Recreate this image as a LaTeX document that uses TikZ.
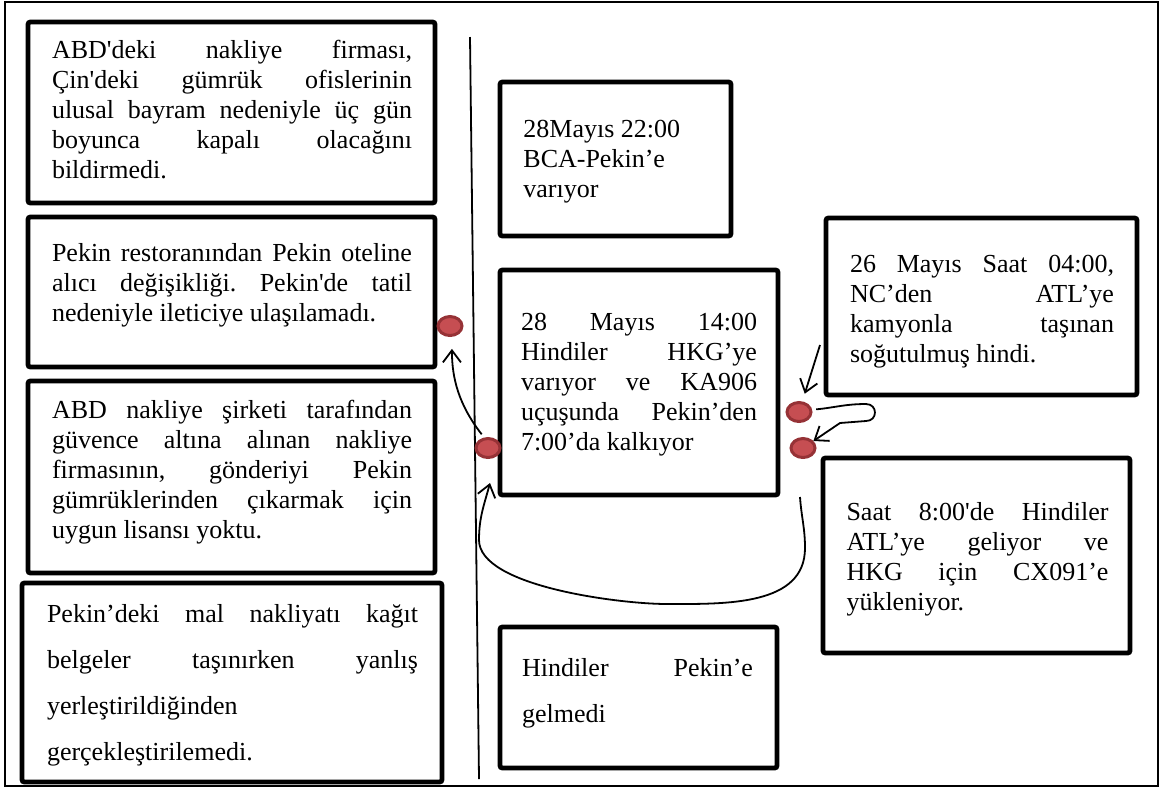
\documentclass[tikz,border=0pt]{standalone}
\usepackage{fontspec}
\setmainfont{Liberation Serif}[Ligatures=TeXOff]
\usetikzlibrary{arrows.meta,shapes.geometric}
\definecolor{dotfill}{RGB}{198,78,82}
\definecolor{dotrim}{RGB}{150,50,54}
% one fully justified line of the given width
\newcommand{\jl}[2]{\makebox[#1][s]{#2}}
\frenchspacing
\begin{document}
\begin{tikzpicture}[x=0.5pt,y=0.5pt,
  box/.style={draw=black, line width=2.4pt, rounded corners=1.2pt, inner sep=0pt},
  txt/.style={inner sep=0pt, align=left, font=\fontsize{13pt}{15pt}\selectfont},
  txtwide/.style={txt, font=\fontsize{13pt}{23pt}\selectfont},
  dot/.style={ellipse, draw=dotrim, fill=dotfill, line width=1.5pt,
    minimum width=12pt, minimum height=9.5pt, inner sep=0pt},
  arr/.style={line width=0.9pt, -{Straight Barb[length=6pt,width=9pt]}}]

\useasboundingbox (0,0) rectangle (1166,-789);
% outer frame and the dividing line
\draw[line width=1pt] (5,-2) rectangle (1158,-786);
\draw[line width=0.9pt] (470,-37) -- (479,-779);

% left column: causes
\node[box, minimum width=203.5pt, minimum height=90.5pt] (bA) at (231.5,-112.5) {};
\node[txt] (tA) at (232,-110) {\jl{180pt}{ABD'deki nakliye firması,}\\
\jl{180pt}{Çin'deki gümrük ofislerinin}\\
\jl{180pt}{ulusal bayram nedeniyle üç gün}\\
\jl{180pt}{boyunca kapalı olacağını}\\
bildirmedi.};

\node[box, minimum width=203.5pt, minimum height=75pt] (bB) at (231.5,-292) {};
\node[txt] (tB) at (232,-285) {\jl{180pt}{Pekin restoranından Pekin oteline}\\
\jl{180pt}{alıcı değişikliği. Pekin'de tatil}\\
nedeniyle ileticiye ulaşılamadı.};

\node[box, minimum width=203.5pt, minimum height=96pt] (bC) at (231.5,-477) {};
\node[txt] (tC) at (232,-472) {\jl{180pt}{ABD nakliye şirketi tarafından}\\
\jl{180pt}{güvence altına alınan nakliye}\\
\jl{180pt}{firmasının, gönderiyi Pekin}\\
\jl{180pt}{gümrüklerinden çıkarmak için}\\
uygun lisansı yoktu.};

\node[box, minimum width=210pt, minimum height=99.5pt] (bD) at (232,-682.5) {};
\node[txtwide] (tD) at (232.5,-685) {\jl{185.5pt}{Pekin’deki mal nakliyatı kağıt}\\
\jl{185.5pt}{belgeler taşınırken yanlış}\\
yerleştirildiğinden\\
gerçekleştirilemedi.};

% middle column: events
\node[box, minimum width=115.5pt, minimum height=77pt] (bE) at (615.5,-159) {};
\node[txt, anchor=west] (tE) at (523,-162) {28Mayıs 22:00\\BCA-Pekin’e\\varıyor};

\node[box, minimum width=139pt, minimum height=112.5pt] (bF) at (639,-382.5) {};
\node[txt] (tF) at (639,-385) {\jl{118pt}{28 Mayıs 14:00}\\
\jl{118pt}{Hindiler HKG’ye}\\
\jl{118pt}{varıyor ve KA906}\\
\jl{118pt}{uçuşunda Pekin’den}\\
7:00’da kalkıyor};

\node[box, minimum width=138.5pt, minimum height=70.5pt] (bI) at (638.5,-697.5) {};
\node[txtwide] (tI) at (637.5,-693) {\jl{115.5pt}{Hindiler Pekin’e}\\
gelmedi};

% right column
\node[box, minimum width=155.5pt, minimum height=88.5pt] (bG) at (981.5,-306.5) {};
\node[txt] (tG) at (982,-312) {\jl{132pt}{26 Mayıs Saat 04:00,}\\
\jl{132pt}{NC’den ATL’ye}\\
\jl{132pt}{kamyonla taşınan}\\
soğutulmuş hindi.};

\node[box, minimum width=153.5pt, minimum height=97.5pt] (bH) at (976.5,-555.5) {};
\node[txt] (tH) at (977.5,-559.5) {\jl{131pt}{Saat 8:00'de Hindiler}\\
\jl{131pt}{ATL’ye geliyor ve}\\
\jl{131pt}{HKG için CX091’e}\\
yükleniyor.};

% markers
\node[dot] (d1) at (450,-326) {};
\node[dot] (d2) at (488,-448) {};
\node[dot] (d3) at (799,-412) {};
\node[dot] (d4) at (803,-448) {};

% connectors
\coordinate (g0) at (820,-345);
\coordinate (h1) at (866,-404);
\coordinate (h2) at (866,-421);
\coordinate (h3) at (840,-423);
\coordinate (u0) at (800,-497);
\coordinate (ur) at (805,-548);
\coordinate (ub) at (667,-604);
\coordinate (ul) at (479,-540);
\coordinate (u1) at (490,-483);

\draw[arr, shorten <=2pt, shorten >=6pt] (d2.110) to[out=128,in=-90] (d1.-80);
\draw[arr, shorten >=4pt] (g0) -- (d3);
\draw[arr, shorten <=2pt] (d3.10) to[out=5,in=180] (h1)
  to[out=0,in=0,looseness=1.8] (h2) -- (h3) -- (d4);
\draw[arr] (u0) to[out=-86,in=90] (ur) to[out=-90,in=0] (ub)
  to[out=180,in=-90,looseness=0.6] (ul) to[out=90,in=-105] (u1);
\end{tikzpicture}
\end{document}
